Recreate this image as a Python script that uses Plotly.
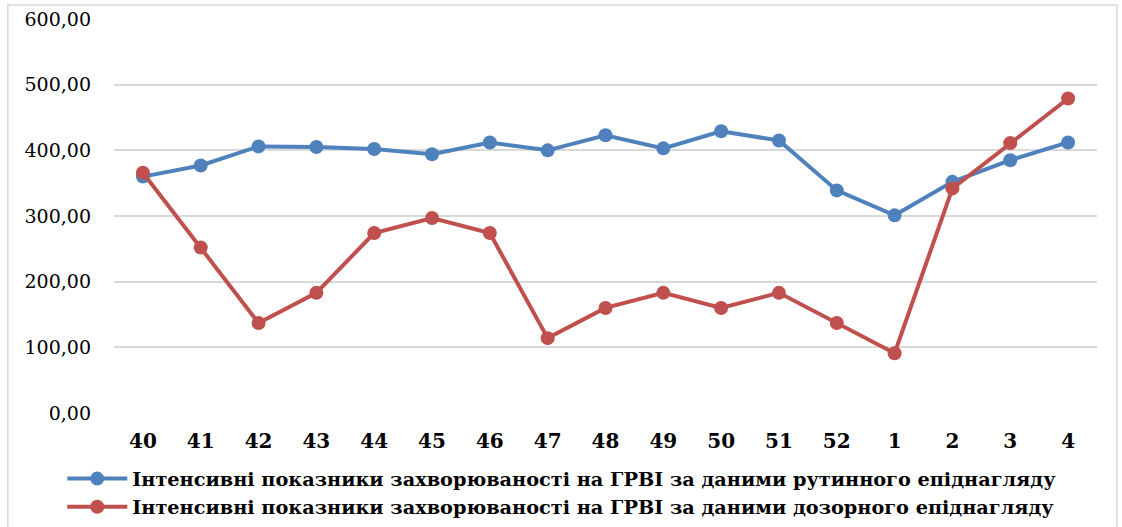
import plotly.graph_objects as go

weeks = ["40", "41", "42", "43", "44", "45", "46", "47", "48", "49", "50", "51", "52", "1", "2", "3", "4"]
routine = [360, 377, 406, 405, 402, 394, 412, 400, 423, 403, 429, 415, 339, 301, 352, 385, 412]
sentinel = [366, 252, 137, 183, 274, 297, 274, 114, 160, 183, 160, 183, 137, 91, 342, 411, 479]
name_routine = "Інтенсивні показники захворюваності на ГРВІ за даними рутинного епіднагляду"
name_sentinel = "Інтенсивні показники захворюваності на ГРВІ за даними дозорного епіднагляду"
y_ticks = [0, 100, 200, 300, 400, 500, 600]

fig = go.Figure()
fig.add_trace(go.Scatter(x=weeks, y=routine, name=name_routine, mode="lines+markers",
                         line=dict(color="#4F81BD", width=4), marker=dict(size=14, color="#4F81BD")))
fig.add_trace(go.Scatter(x=weeks, y=sentinel, name=name_sentinel, mode="lines+markers",
                         line=dict(color="#C0504D", width=4), marker=dict(size=14, color="#C0504D")))

fig.update_layout(
    width=1122, height=527,
    margin=dict(l=114, r=25, t=19, b=114, autoexpand=False),
    paper_bgcolor="white", plot_bgcolor="white",
    separators=", ",
    font=dict(family="DejaVu Serif", color="black"),
    showlegend=True,
    legend=dict(orientation="v", xref="container", yref="container", x=0.0555, y=0.128,
                xanchor="left", yanchor="top",
                font=dict(size=19.3, family="DejaVu Serif", weight="bold"),
                tracegroupgap=0, itemwidth=60, bgcolor="rgba(0,0,0,0)"),
    xaxis=dict(type="category", range=[-0.5, len(weeks) - 0.5], showgrid=False, showline=False,
               zeroline=False, automargin=False,
               tickfont=dict(size=20, weight="bold"), ticklabelstandoff=14),
    yaxis=dict(range=[0, 600], tickvals=y_ticks, tickformat=".2f", showgrid=True, automargin=False,
               gridcolor="#D9D9D9", gridwidth=1.5, zeroline=False, showline=False,
               tickfont=dict(size=19), ticklabelstandoff=22),
    shapes=[dict(type="rect", xref="paper", yref="paper", x0=-0.108, x1=1.0203, y0=-0.3, y1=1.0355,
                 line=dict(color="#D9D9D9", width=1.5), fillcolor="rgba(0,0,0,0)", layer="below")],
)

fig.write_html("out.html", config={"displayModeBar": False},
               post_script="document.body.style.margin='0';")
